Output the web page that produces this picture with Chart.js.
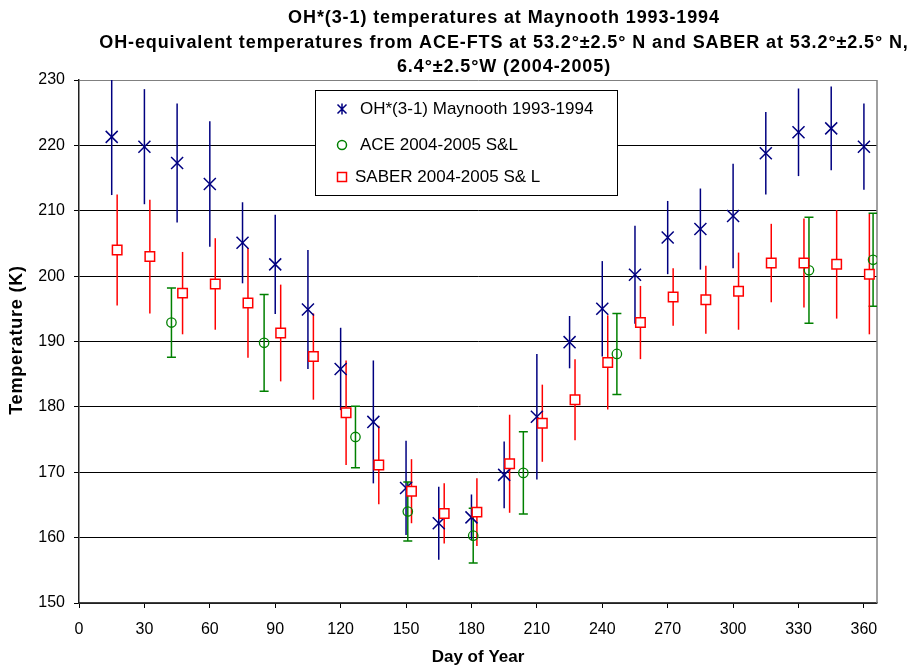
<!DOCTYPE html>
<html>
<head>
<meta charset="utf-8">
<title>OH*(3-1) temperatures at Maynooth</title>
<script src="https://cdn.jsdelivr.net/npm/chart.js@4.4.1/dist/chart.umd.min.js"></script>
<style>
  body { margin: 0; background: #fff; }
  #wrap { width: 914px; height: 669px; }
</style>
</head>
<body>
<div id="wrap"><canvas id="chart" width="914" height="669"></canvas></div>
<script>
// OH*(3-1) Maynooth 1993-1994
const ohDays = [15, 30, 45, 60, 75, 90, 105, 120, 135, 150, 165, 180,
  195, 210, 225, 240, 255, 270, 285, 300, 315, 330, 345, 360];
const ohTemp = [221.3, 219.8, 217.3, 214.1, 205.1, 201.8, 194.9, 185.8, 177.7, 167.6, 162.2, 163.1,
  169.6, 178.5, 189.9, 195.0, 200.2, 205.9, 207.2, 209.2, 218.8, 222.0, 222.6, 219.8];
const ohErr = [8.9, 8.8, 9.1, 9.6, 6.2, 7.6, 9.1, 6.3, 9.4, 7.2, 5.6, 3.5,
  5.1, 9.6, 4.0, 7.3, 7.5, 5.6, 6.2, 8.0, 6.3, 6.7, 6.4, 6.6];

// ACE 2004-2005 S&L
const aceDays = [42.4, 84.9, 126.8, 150.8, 180.8, 203.8, 246.7, 334.8, 364.2];
const aceTemp = [192.9, 189.8, 175.4, 164.0, 160.3, 169.9, 188.1, 200.9, 202.5];
const aceErr = [5.3, 7.4, 4.7, 4.5, 4.2, 6.3, 6.2, 8.1, 7.1];

// SABER 2004-2005 S& L
const saberDays = [17.5, 32.5, 47.5, 62.5, 77.5, 92.5, 107.5, 122.5, 137.5, 152.5, 167.5, 182.5,
  197.5, 212.5, 227.5, 242.5, 257.5, 272.5, 287.5, 302.5, 317.5, 332.5, 347.5, 362.5];
const saberTemp = [204.0, 203.0, 197.4, 198.8, 195.9, 191.3, 187.7, 179.1, 171.1, 167.1, 163.7, 163.9,
  171.3, 177.5, 181.1, 186.8, 192.9, 196.8, 196.4, 197.7, 202.0, 202.0, 201.8, 200.3];
const saberErr = [8.5, 8.7, 6.3, 7.0, 8.4, 7.4, 6.6, 8.0, 6.0, 4.9, 4.6, 5.2,
  7.5, 5.9, 6.2, 7.2, 5.6, 4.4, 5.2, 5.9, 6.0, 6.8, 8.3, 9.2];

const titleLines = [
  'OH*(3-1) temperatures at Maynooth 1993-1994',
  'OH-equivalent temperatures from ACE-FTS at 53.2°±2.5° N and SABER at 53.2°±2.5° N,',
  '6.4°±2.5°W (2004-2005)',
];
const yTitle = 'Temperature (K)';
const xTitle = 'Day of Year';

const FONT = '"Liberation Sans", Arial, sans-serif';
const BLUE = '#000080';
const GREEN = '#008000';
const RED = '#ff0000';

function toPoints(xs, ys) {
  return xs.map((x, i) => ({ x: x, y: ys[i] }));
}

const whiteBackground = {
  id: 'whiteBackground',
  beforeDraw(chart) {
    const ctx = chart.ctx;
    ctx.save();
    ctx.fillStyle = '#fff';
    ctx.fillRect(0, 0, chart.width, chart.height);
    ctx.restore();
  },
};

// vertical error bars, drawn through the chart scales
const errorBars = {
  id: 'errorBars',
  beforeDatasetsDraw(chart) {
    const ctx = chart.ctx;
    const xs = chart.scales.x;
    const ys = chart.scales.y;
    const area = chart.chartArea;

    // right border of the plot area
    ctx.save();
    ctx.strokeStyle = '#808080';
    ctx.lineWidth = 1.5;
    ctx.beginPath();
    ctx.moveTo(area.right, area.top);
    ctx.lineTo(area.right, area.bottom);
    ctx.stroke();
    ctx.restore();

    ctx.save();
    ctx.beginPath();
    ctx.rect(area.left, area.top, area.right - area.left, area.bottom - area.top);
    ctx.clip();
    chart.data.datasets.forEach((ds) => {
      ctx.strokeStyle = ds.borderColor;
      ctx.lineWidth = 1.5;
      ds.data.forEach((p, i) => {
        const e = ds.errors[i];
        const px = xs.getPixelForValue(p.x);
        const top = ys.getPixelForValue(p.y + e);
        const bot = ys.getPixelForValue(p.y - e);
        ctx.beginPath();
        ctx.moveTo(px, top);
        ctx.lineTo(px, bot);
        if (ds.caps) {
          ctx.moveTo(px - 4.5, top);
          ctx.lineTo(px + 4.5, top);
          ctx.moveTo(px - 4.5, bot);
          ctx.lineTo(px + 4.5, bot);
        }
        ctx.stroke();
      });
    });
    ctx.restore();
  },
};

// titles and boxed legend
const textAndLegend = {
  id: 'textAndLegend',
  afterDraw(chart) {
    const ctx = chart.ctx;
    ctx.save();
    ctx.fillStyle = '#000';
    ctx.textAlign = 'center';
    ctx.textBaseline = 'middle';
    ctx.font = 'bold 18px ' + FONT;
    ctx.letterSpacing = '0.9px';
    const titleY = [18, 43, 67];
    titleLines.forEach((line, i) => ctx.fillText(line, 504, titleY[i]));

    ctx.save();
    ctx.translate(17.5, 340);
    ctx.rotate(-Math.PI / 2);
    ctx.font = 'bold 18px ' + FONT;
    ctx.letterSpacing = '0.8px';
    ctx.fillText(yTitle, 0, 0);
    ctx.restore();
    ctx.letterSpacing = '0px';

    // legend box
    const lx = 315, ly = 90, lw = 302, lh = 105;
    ctx.fillStyle = '#fff';
    ctx.fillRect(lx, ly, lw, lh);
    ctx.strokeStyle = '#000';
    ctx.lineWidth = 1;
    ctx.strokeRect(lx + 0.5, ly + 0.5, lw, lh);

    const rows = [109, 145, 177];
    const byRow = {};
    chart.data.datasets.forEach((ds) => { byRow[ds.legendRow] = ds; });
    ctx.textAlign = 'left';
    ctx.font = '17px ' + FONT;
    for (let r = 0; r < 3; r++) {
      const ds = byRow[r];
      const y = rows[r];
      const mx = 342;
      ctx.strokeStyle = ds.borderColor;
      ctx.lineWidth = 1.5;
      ctx.beginPath();
      if (ds.pointStyle === 'crossRot') {
        ctx.moveTo(mx - 4.5, y - 4.5); ctx.lineTo(mx + 4.5, y + 4.5);
        ctx.moveTo(mx + 4.5, y - 4.5); ctx.lineTo(mx - 4.5, y + 4.5);
        ctx.moveTo(mx, y - 5.5); ctx.lineTo(mx, y + 5.5);
      } else if (ds.pointStyle === 'circle') {
        ctx.arc(mx, y, 4.5, 0, Math.PI * 2);
      } else {
        ctx.rect(mx - 4.5, y - 4.5, 9, 9);
      }
      ctx.stroke();
      ctx.fillStyle = '#000';
      ctx.fillText(ds.label, ds.pointStyle === 'rect' ? 355 : 360, y);
    }
    ctx.restore();
  },
};

const canvas = document.getElementById('chart');
const chart = new Chart(canvas, {
  type: 'scatter',
  data: {
    datasets: [
      {
        label: 'OH*(3-1) Maynooth 1993-1994',
        data: toPoints(ohDays, ohTemp),
        errors: ohErr,
        legendRow: 0,
        order: 2,
        borderColor: BLUE,
        backgroundColor: BLUE,
        pointStyle: 'crossRot',
        pointRadius: 8.5,
        pointBorderWidth: 1.5,
      },
      {
        label: 'ACE 2004-2005 S&L',
        data: toPoints(aceDays, aceTemp),
        errors: aceErr,
        caps: true,
        legendRow: 1,
        order: 1,
        borderColor: GREEN,
        backgroundColor: 'rgba(0,0,0,0)',
        pointStyle: 'circle',
        pointRadius: 4.7,
        pointBorderWidth: 1.3,
      },
      {
        label: 'SABER 2004-2005 S& L',
        data: toPoints(saberDays, saberTemp),
        errors: saberErr,
        legendRow: 2,
        order: 0,
        borderColor: RED,
        backgroundColor: '#fff',
        pointStyle: 'rect',
        pointRadius: 6.7,
        pointBorderWidth: 1.5,
      },
    ],
  },
  options: {
    responsive: false,
    animation: false,
    layout: {
      padding: { top: 80, right: 37, left: 0, bottom: 0 },
    },
    plugins: {
      legend: { display: false },
      title: { display: false },
      tooltip: { enabled: false },
    },
    scales: {
      x: {
        type: 'linear',
        min: 0,
        max: 366,
        afterFit(scale) { scale.height = 66; },
        ticks: {
          stepSize: 30,
          includeBounds: false,
          color: '#000',
          padding: 12,
          maxRotation: 0,
          font: { family: FONT, size: 16 },
        },
        grid: {
          drawOnChartArea: false,
          drawTicks: true,
          tickLength: 5,
          tickColor: '#000',
          tickWidth: 1,
        },
        border: { display: true, color: '#404040', width: 1.5 },
        title: {
          display: true,
          text: xTitle,
          color: '#000',
          padding: { top: 0, bottom: 1 },
          font: { family: FONT, size: 17, weight: 'bold' },
        },
      },
      y: {
        min: 150,
        max: 230,
        afterFit(scale) { scale.width = 79; },
        ticks: {
          stepSize: 10,
          color: '#000',
          padding: 9,
          font: { family: FONT, size: 16 },
        },
        grid: {
          color: (c) => (c.tick && c.tick.value === 230 ? '#808080' : '#000'),
          lineWidth: 1,
          drawTicks: true,
          tickLength: 5,
          tickColor: '#000',
        },
        border: { display: true, color: '#202020', width: 1.5 },
      },
    },
  },
  plugins: [whiteBackground, errorBars, textAndLegend],
});
</script>
</body>
</html>
